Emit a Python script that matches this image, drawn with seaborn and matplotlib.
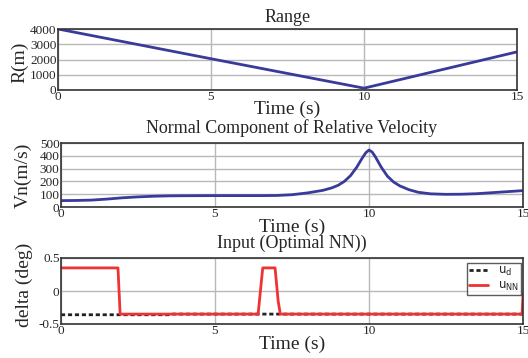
import numpy as np
import pandas as pd
import seaborn as sns
import matplotlib.pyplot as plt

# data
t_range = [0, 5, 10, 15]
r_range = [4000, 2050, 120, 2500]

t_vn = [0, 0.5, 1, 1.5, 2, 2.5, 3, 3.5, 4, 5, 6, 6.5, 7, 7.5, 8, 8.5, 8.8, 9, 9.2, 9.4, 9.6, 9.8,
        9.9, 10, 10.1, 10.2, 10.4, 10.6, 10.8, 11, 11.3, 11.6, 12, 12.5, 13, 13.5, 14, 14.5, 15]
vn = [50, 51, 54, 62, 72, 79, 84, 87, 88, 89, 89, 89, 90, 96, 110, 130, 150, 170, 200, 245, 310, 390,
      425, 445, 430, 395, 310, 240, 195, 165, 135, 115, 103, 99, 100, 104, 112, 120, 128]

t_nn = [0, 1.85, 1.92, 6.4, 6.55, 6.95, 7.05, 7.12, 14.97, 15]
u_nn = [0.35, 0.35, -0.35, -0.35, 0.35, 0.35, -0.15, -0.35, -0.35, -0.05]
t_d = [0, 3.5, 3.6, 15]
u_d = [-0.36, -0.36, -0.35, -0.35]

sns.set_style('white')
plt.rcParams['font.family'] = ['Liberation Serif', 'DejaVu Serif']
plt.rcParams['mathtext.fontset'] = 'dejavusans'

fig = plt.figure(figsize=(5.28, 3.58), dpi=100)
W, H = 528, 358
def box(l, t, r, b):
    return [l / W, 1 - b / H, (r - l) / W, (b - t) / H]

ax1 = fig.add_axes(box(58, 29, 517, 90))
ax2 = fig.add_axes(box(61, 143, 523, 207))
ax3 = fig.add_axes(box(61, 258, 523, 324))

blue = '#3a3a9a'
sns.lineplot(x=t_range, y=r_range, ax=ax1, color=blue, lw=2)
sns.lineplot(x=t_vn, y=vn, ax=ax2, color=blue, lw=2)
sns.lineplot(x=t_d, y=u_d, ax=ax3, color='#222222', lw=2, linestyle=(0, (1.5, 1)), label=r'$\mathsf{u_d}$')
sns.lineplot(x=t_nn, y=u_nn, ax=ax3, color='#ee3333', lw=2, label=r'$\mathsf{u_{NN}}$')

for ax in (ax1, ax2, ax3):
    ax.set_xlim(0, 15)
    ax.set_xticks([0, 5, 10, 15])
    ax.grid(True, color='#b8b8b8', lw=1)
    ax.tick_params(length=0, labelsize=9.5, pad=1)
    for s in ax.spines.values():
        s.set_color('#333333')
        s.set_linewidth(1.2)

ax1.set_ylim(0, 4000)
ax1.set_yticks([0, 1000, 2000, 3000, 4000])
ax2.set_ylim(0, 500)
ax2.set_yticks([0, 100, 200, 300, 400, 500])
ax3.set_ylim(-0.5, 0.5)
ax3.set_yticks([-0.5, 0, 0.5])
ax3.set_yticklabels(['-0.5', '0', '0.5'])

ax1.set_title('Range', fontsize=13, pad=5)
ax2.set_title('Normal Component of Relative Velocity', fontsize=13, pad=7)
ax3.set_title('Input (Optimal NN))', fontsize=13, pad=7)
ax1.set_ylabel('R(m)', fontsize=14)
ax2.set_ylabel('Vn(m/s)', fontsize=14)
ax3.set_ylabel('delta (deg)', fontsize=14)
ax1.yaxis.set_label_coords(-0.065, 0.45)
ax2.yaxis.set_label_coords(-0.063, 0.5)
ax3.yaxis.set_label_coords(-0.060, 0.6)
ax1.set_xlabel('Time (s)', fontsize=14, labelpad=-2)
ax2.set_xlabel('Time (s)', fontsize=14, labelpad=-1.5)
ax3.set_xlabel('Time (s)', fontsize=14, labelpad=-1)

leg = ax3.legend(loc='upper right', fontsize=8.5, frameon=True, fancybox=False,
                 handlelength=1.6, borderpad=0.2, labelspacing=0.1, borderaxespad=0,
                 bbox_to_anchor=(0.9957, 0.924))
leg.get_frame().set_edgecolor('#333333')
leg.get_frame().set_linewidth(1)

fig.savefig('out.png', dpi=100)
